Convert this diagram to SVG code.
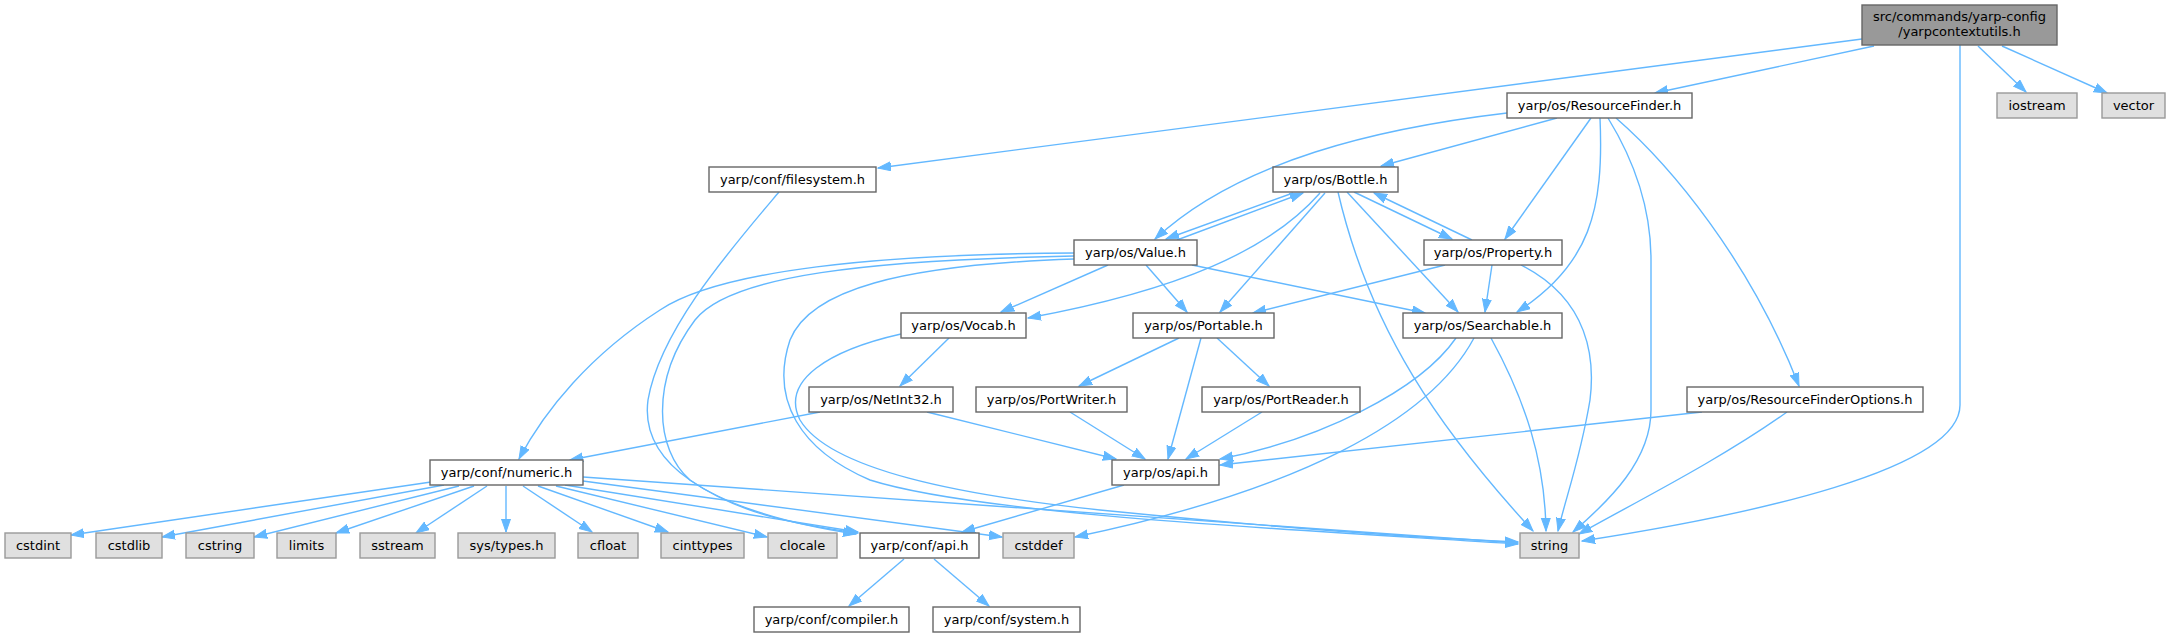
<svg xmlns="http://www.w3.org/2000/svg" width="2170" height="637" viewBox="0 0 2170 637">
<style>
.n rect{fill:#ffffff;stroke:#666666;stroke-width:1.4}
.x rect{fill:#e0e0e0;stroke:#999999;stroke-width:1.4}
.r rect{fill:#999999;stroke:#666666;stroke-width:1.4}
text{font-family:"DejaVu Sans","Liberation Sans",sans-serif;font-size:13px;text-anchor:middle;fill:#000000}
#edges path{fill:none;stroke:#63b8ff;stroke-width:1.4;marker-end:url(#ah)}
</style>
<defs>
<marker id="ah" markerUnits="userSpaceOnUse" markerWidth="14" markerHeight="11" refX="13" refY="5" orient="auto">
<path d="M0,0.5 L13,5 L0,9.5 z" fill="#63b8ff" stroke="#63b8ff" stroke-width="1"/>
</marker>
</defs>
<rect width="2170" height="637" fill="#ffffff"/>
<g id="edges">
<path d="M1862,39 L878,168"/>
<path d="M1874,46 L1655,93"/>
<path d="M1960,45 L1960,405 C1960,470 1750,515 1582,541"/>
<path d="M1978,46 L2026,92"/>
<path d="M2002,46 L2107,93"/>
<path d="M1557,118 L1381,166"/>
<path d="M1507,113 C1380,128 1240,160 1155,239"/>
<path d="M1591,118 L1505,239"/>
<path d="M1600,118 C1604,210 1590,265 1517,312"/>
<path d="M1608,118 C1640,170 1651,220 1651,260 L1651,410 C1651,460 1610,500 1573,532"/>
<path d="M1616,118 C1670,165 1750,260 1799,386"/>
<path d="M1293,193 L1166,239"/>
<path d="M1177,240 L1303,193"/>
<path d="M1354,192 L1452,239"/>
<path d="M1472,240 L1374,193"/>
<path d="M1320,193 C1270,250 1180,290 1028,318"/>
<path d="M1325,193 L1220,312"/>
<path d="M1347,192 L1458,312"/>
<path d="M1338,192 C1370,330 1440,430 1533,531"/>
<path d="M1108,265 L1001,312"/>
<path d="M1146,265 L1187,312"/>
<path d="M1192,265 L1425,313"/>
<path d="M1074,253 C880,254 720,270 660,310 C590,355 545,410 519,459"/>
<path d="M1074,256 C870,260 730,275 695,320 C650,380 655,450 690,480 C740,515 800,525 858,533"/>
<path d="M1074,259 C900,265 810,290 790,340 C770,400 800,450 870,480 C980,515 1300,530 1518,544"/>
<path d="M779,192 C730,250 660,330 648,400 C640,460 700,510 856,534"/>
<path d="M949,338 L900,386"/>
<path d="M901,334 C830,350 780,380 800,420 C830,470 960,495 1100,510 C1300,530 1420,538 1518,542"/>
<path d="M820,412 L570,460"/>
<path d="M927,412 L1116,459"/>
<path d="M1179,338 L1079,386"/>
<path d="M1217,338 L1269,386"/>
<path d="M1201,338 L1168,459"/>
<path d="M1070,412 L1145,459"/>
<path d="M1262,412 L1186,459"/>
<path d="M1445,265 L1253,313"/>
<path d="M1492,265 L1485,312"/>
<path d="M1521,265 C1590,300 1595,360 1590,400 C1580,460 1565,500 1558,531"/>
<path d="M1456,338 C1420,390 1320,440 1220,459"/>
<path d="M1474,338 C1430,420 1300,490 1075,537"/>
<path d="M1491,338 C1525,400 1545,460 1546,531"/>
<path d="M1702,412 L1220,465"/>
<path d="M1787,412 C1720,460 1630,505 1579,534"/>
<path d="M431,482 L71,535"/>
<path d="M444,485 L162,537"/>
<path d="M459,486 L254,537"/>
<path d="M474,486 L336,533"/>
<path d="M487,486 L416,533"/>
<path d="M506,486 L506,532"/>
<path d="M523,486 L592,532"/>
<path d="M538,486 L668,532"/>
<path d="M556,486 L767,537"/>
<path d="M565,485 L858,532"/>
<path d="M583,481 L1002,537"/>
<path d="M583,477 L1518,543"/>
<path d="M1124,485 L962,532"/>
<path d="M904,559 L849,606"/>
<path d="M934,559 L989,606"/>
</g>
<g id="root" class="r"><rect x="1862" y="5" width="195" height="40"/><text x="1959.5" y="21">src/commands/yarp-config</text><text x="1959.5" y="36">/yarpcontextutils.h</text></g>
<g id="resourcefinder" class="n"><rect x="1507" y="93" width="185" height="25"/><text x="1599.5" y="110">yarp/os/ResourceFinder.h</text></g>
<g id="iostream" class="x"><rect x="1997" y="93" width="80" height="25"/><text x="2037" y="110">iostream</text></g>
<g id="vector" class="x"><rect x="2102" y="93" width="63" height="25"/><text x="2133.5" y="110">vector</text></g>
<g id="filesystem" class="n"><rect x="709" y="167" width="167" height="25"/><text x="792.5" y="184">yarp/conf/filesystem.h</text></g>
<g id="bottle" class="n"><rect x="1273" y="167" width="125" height="25"/><text x="1335.5" y="184">yarp/os/Bottle.h</text></g>
<g id="value" class="n"><rect x="1074" y="240" width="123" height="25"/><text x="1135.5" y="257">yarp/os/Value.h</text></g>
<g id="property" class="n"><rect x="1424" y="240" width="138" height="25"/><text x="1493" y="257">yarp/os/Property.h</text></g>
<g id="vocab" class="n"><rect x="901" y="313" width="125" height="25"/><text x="963.5" y="330">yarp/os/Vocab.h</text></g>
<g id="portable" class="n"><rect x="1133" y="313" width="141" height="25"/><text x="1203.5" y="330">yarp/os/Portable.h</text></g>
<g id="searchable" class="n"><rect x="1403" y="313" width="159" height="25"/><text x="1482.5" y="330">yarp/os/Searchable.h</text></g>
<g id="netint32" class="n"><rect x="809" y="387" width="144" height="25"/><text x="881" y="404">yarp/os/NetInt32.h</text></g>
<g id="portwriter" class="n"><rect x="976" y="387" width="151" height="25"/><text x="1051.5" y="404">yarp/os/PortWriter.h</text></g>
<g id="portreader" class="n"><rect x="1202" y="387" width="158" height="25"/><text x="1281" y="404">yarp/os/PortReader.h</text></g>
<g id="rfoptions" class="n"><rect x="1687" y="387" width="236" height="25"/><text x="1805" y="404">yarp/os/ResourceFinderOptions.h</text></g>
<g id="numeric" class="n"><rect x="430" y="460" width="153" height="25"/><text x="506.5" y="477">yarp/conf/numeric.h</text></g>
<g id="osapi" class="n"><rect x="1112" y="460" width="107" height="25"/><text x="1165.5" y="477">yarp/os/api.h</text></g>
<g id="cstdint" class="x"><rect x="5" y="533" width="66" height="25"/><text x="38" y="550">cstdint</text></g>
<g id="cstdlib" class="x"><rect x="96" y="533" width="66" height="25"/><text x="129" y="550">cstdlib</text></g>
<g id="cstring" class="x"><rect x="186" y="533" width="68" height="25"/><text x="220" y="550">cstring</text></g>
<g id="limits" class="x"><rect x="277" y="533" width="59" height="25"/><text x="306.5" y="550">limits</text></g>
<g id="sstream" class="x"><rect x="360" y="533" width="75" height="25"/><text x="397.5" y="550">sstream</text></g>
<g id="systypes" class="x"><rect x="458" y="533" width="97" height="25"/><text x="506.5" y="550">sys/types.h</text></g>
<g id="cfloat" class="x"><rect x="578" y="533" width="60" height="25"/><text x="608" y="550">cfloat</text></g>
<g id="cinttypes" class="x"><rect x="661" y="533" width="83" height="25"/><text x="702.5" y="550">cinttypes</text></g>
<g id="clocale" class="x"><rect x="768" y="533" width="69" height="25"/><text x="802.5" y="550">clocale</text></g>
<g id="confapi" class="n"><rect x="860" y="533" width="119" height="25"/><text x="919.5" y="550">yarp/conf/api.h</text></g>
<g id="cstddef" class="x"><rect x="1003" y="533" width="71" height="25"/><text x="1038.5" y="550">cstddef</text></g>
<g id="string" class="x"><rect x="1520" y="533" width="59" height="25"/><text x="1549.5" y="550">string</text></g>
<g id="compiler" class="n"><rect x="754" y="607" width="155" height="25"/><text x="831.5" y="624">yarp/conf/compiler.h</text></g>
<g id="system" class="n"><rect x="933" y="607" width="147" height="25"/><text x="1006.5" y="624">yarp/conf/system.h</text></g>
</svg>
